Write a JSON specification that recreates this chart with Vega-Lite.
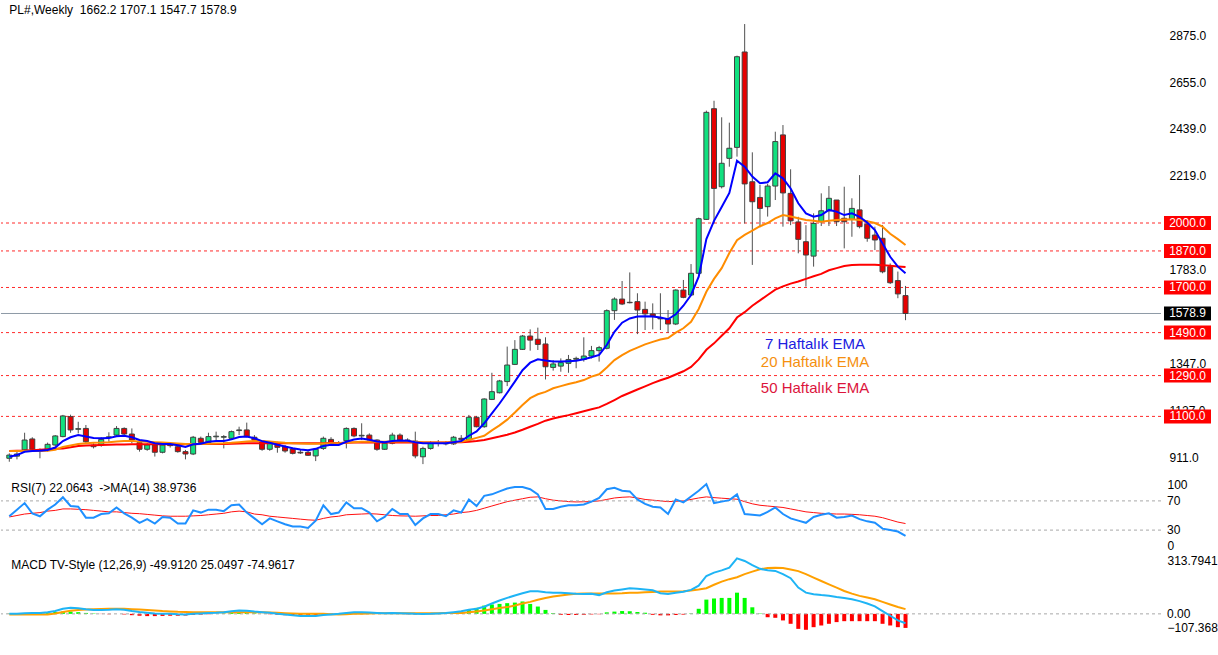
{
"$schema":"https://vega.github.io/schema/vega-lite/v6.json",
"background":"white","padding":0,"spacing":2,
"config":{"view":{"stroke":null},"font":"Liberation Sans","scale":{"continuousPadding":0},"axis":{"labelFont":"Liberation Sans","labelFontSize":12,"labelColor":"#000000","grid":false,"domain":false,"ticks":false,"tickSize":0}},
"datasets":{
"lv":[{"v":2000,"k":"lvl"},{"v":1870,"k":"lvl"},{"v":1700,"k":"lvl"},{"v":1490,"k":"lvl"},{"v":1290,"k":"lvl"},{"v":1100,"k":"lvl"},{"v":1578.9,"k":"px"}],
"w":[
{"d":"2024-03-24","o":905,"h":928,"l":889,"c":920,"e7":912,"e20":939,"e50":939,"rsi":49,"rma":48,"macd":0,"sig":-3.5,"hist":2},
{"d":"2024-03-31","o":915,"h":935,"l":900,"c":925,"e7":920,"e20":939,"e50":940,"rsi":58,"rma":50,"macd":1,"sig":-3.5,"hist":3},
{"d":"2024-04-07","o":944,"h":1024,"l":936,"c":990,"e7":935,"e20":939,"e50":941,"rsi":67,"rma":52,"macd":3,"sig":-3.5,"hist":4},
{"d":"2024-04-14","o":995,"h":1003,"l":940,"c":947,"e7":939,"e20":939,"e50":943,"rsi":53,"rma":53,"macd":4,"sig":-3.5,"hist":5},
{"d":"2024-04-21","o":943,"h":951,"l":905,"c":937,"e7":940,"e20":939,"e50":945,"rsi":49,"rma":54,"macd":4,"sig":-3.5,"hist":6},
{"d":"2024-04-28","o":943,"h":978,"l":936,"c":970,"e7":944,"e20":940,"e50":947,"rsi":58,"rma":56,"macd":8,"sig":-3,"hist":8},
{"d":"2024-05-05","o":967,"h":1013,"l":962,"c":1009,"e7":955,"e20":945,"e50":949,"rsi":65,"rma":57,"macd":15,"sig":2,"hist":10},
{"d":"2024-05-12","o":1006,"h":1107,"l":1003,"c":1102,"e7":985,"e20":958,"e50":951,"rsi":75,"rma":59,"macd":27,"sig":10,"hist":12},
{"d":"2024-05-19","o":1099,"h":1108,"l":1024,"c":1037,"e7":1003,"e20":965,"e50":956,"rsi":63,"rma":59,"macd":32,"sig":16,"hist":12},
{"d":"2024-05-26","o":1040,"h":1075,"l":1021,"c":1043,"e7":1013,"e20":972,"e50":962,"rsi":62,"rma":58.5,"macd":30,"sig":20,"hist":9},
{"d":"2024-06-02","o":1044,"h":1060,"l":975,"c":982,"e7":1006,"e20":975,"e50":964,"rsi":47,"rma":58,"macd":25,"sig":23,"hist":5},
{"d":"2024-06-09","o":966,"h":975,"l":951,"c":959,"e7":1000,"e20":977,"e50":966,"rsi":47,"rma":57,"macd":21,"sig":25,"hist":2},
{"d":"2024-06-16","o":967,"h":1003,"l":959,"c":993,"e7":998,"e20":978,"e50":967,"rsi":52,"rma":56,"macd":20,"sig":26,"hist":-1},
{"d":"2024-06-23","o":1001,"h":1026,"l":982,"c":1005,"e7":999,"e20":980,"e50":968,"rsi":53,"rma":55,"macd":22,"sig":26.6,"hist":-2},
{"d":"2024-06-30","o":1013,"h":1055,"l":1009,"c":1044,"e7":1008,"e20":983,"e50":969,"rsi":61,"rma":55,"macd":25,"sig":26.6,"hist":0},
{"d":"2024-07-07","o":1044,"h":1049,"l":1013,"c":1018,"e7":1010,"e20":985,"e50":969,"rsi":53,"rma":54,"macd":22,"sig":26.6,"hist":-3},
{"d":"2024-07-14","o":1018,"h":1044,"l":975,"c":990,"e7":1003,"e20":985,"e50":970,"rsi":47,"rma":53,"macd":15,"sig":25,"hist":-7},
{"d":"2024-07-21","o":978,"h":985,"l":936,"c":947,"e7":990,"e20":983,"e50":970,"rsi":40,"rma":52.5,"macd":10,"sig":23,"hist":-10},
{"d":"2024-07-28","o":947,"h":975,"l":940,"c":967,"e7":985,"e20":982,"e50":970,"rsi":45,"rma":51.5,"macd":6,"sig":21,"hist":-12},
{"d":"2024-08-04","o":967,"h":975,"l":913,"c":933,"e7":975,"e20":980,"e50":970,"rsi":39,"rma":50.5,"macd":2,"sig":18,"hist":-12},
{"d":"2024-08-11","o":933,"h":972,"l":928,"c":967,"e7":972,"e20":978,"e50":970,"rsi":48,"rma":49.5,"macd":0,"sig":15,"hist":-11},
{"d":"2024-08-18","o":967,"h":980,"l":955,"c":964,"e7":972,"e20":976,"e50":970,"rsi":47,"rma":49,"macd":0,"sig":13,"hist":-10},
{"d":"2024-08-25","o":959,"h":967,"l":931,"c":936,"e7":966,"e20":974,"e50":970,"rsi":39,"rma":49,"macd":-2,"sig":11,"hist":-10},
{"d":"2024-09-01","o":936,"h":944,"l":900,"c":925,"e7":958,"e20":972,"e50":970,"rsi":39,"rma":49,"macd":-3,"sig":10,"hist":-9},
{"d":"2024-09-08","o":925,"h":1009,"l":920,"c":1003,"e7":970,"e20":972,"e50":970,"rsi":57,"rma":49.5,"macd":0,"sig":9,"hist":-6},
{"d":"2024-09-15","o":998,"h":1006,"l":975,"c":979,"e7":973,"e20":972,"e50":971,"rsi":54,"rma":50,"macd":2,"sig":8.5,"hist":-4},
{"d":"2024-09-22","o":978,"h":1024,"l":967,"c":1006,"e7":982,"e20":973,"e50":971,"rsi":58,"rma":51,"macd":4,"sig":8.5,"hist":-2},
{"d":"2024-09-29","o":1005,"h":1029,"l":990,"c":1008,"e7":985,"e20":974,"e50":972,"rsi":58,"rma":52,"macd":6,"sig":8.5,"hist":0},
{"d":"2024-10-06","o":1003,"h":1013,"l":951,"c":1006,"e7":986,"e20":975,"e50":972,"rsi":56,"rma":53,"macd":9,"sig":8.5,"hist":2},
{"d":"2024-10-13","o":998,"h":1034,"l":993,"c":1029,"e7":993,"e20":977,"e50":973,"rsi":64,"rma":55,"macd":14,"sig":9,"hist":5},
{"d":"2024-10-20","o":1034,"h":1052,"l":1013,"c":1037,"e7":1004,"e20":980,"e50":974,"rsi":65,"rma":56,"macd":18,"sig":9,"hist":7},
{"d":"2024-10-27","o":1037,"h":1071,"l":1003,"c":1006,"e7":1006,"e20":983,"e50":975,"rsi":54,"rma":55,"macd":16,"sig":9,"hist":6},
{"d":"2024-11-03","o":1003,"h":1013,"l":985,"c":990,"e7":998,"e20":985,"e50":975,"rsi":46,"rma":52,"macd":12,"sig":9,"hist":3},
{"d":"2024-11-10","o":985,"h":987,"l":940,"c":947,"e7":985,"e20":985,"e50":975,"rsi":38,"rma":51,"macd":9,"sig":8.5,"hist":0},
{"d":"2024-11-17","o":947,"h":982,"l":940,"c":975,"e7":977,"e20":983,"e50":975,"rsi":46,"rma":49,"macd":6,"sig":7,"hist":-2},
{"d":"2024-11-24","o":975,"h":982,"l":931,"c":956,"e7":968,"e20":980,"e50":975,"rsi":42,"rma":48,"macd":0,"sig":5.5,"hist":-5},
{"d":"2024-12-01","o":959,"h":967,"l":931,"c":939,"e7":960,"e20":977,"e50":975,"rsi":38,"rma":47,"macd":-4,"sig":3.5,"hist":-7},
{"d":"2024-12-08","o":948,"h":954,"l":923,"c":928,"e7":952,"e20":975,"e50":975,"rsi":35,"rma":46,"macd":-8,"sig":2,"hist":-9},
{"d":"2024-12-15","o":933,"h":947,"l":925,"c":930,"e7":946,"e20":974,"e50":975,"rsi":35,"rma":45,"macd":-11,"sig":1,"hist":-10},
{"d":"2024-12-22","o":933,"h":944,"l":916,"c":919,"e7":942,"e20":973,"e50":975,"rsi":33,"rma":44,"macd":-12,"sig":0,"hist":-10},
{"d":"2024-12-29","o":916,"h":951,"l":892,"c":947,"e7":949,"e20":973,"e50":975,"rsi":43,"rma":43.5,"macd":-11,"sig":0,"hist":-9},
{"d":"2025-01-05","o":951,"h":1006,"l":944,"c":998,"e7":962,"e20":974,"e50":975,"rsi":64,"rma":46,"macd":-6,"sig":0,"hist":-5},
{"d":"2025-01-12","o":993,"h":1003,"l":967,"c":972,"e7":968,"e20":975,"e50":976,"rsi":52,"rma":48,"macd":-3,"sig":-2,"hist":-1},
{"d":"2025-01-19","o":972,"h":985,"l":965,"c":975,"e7":967,"e20":975,"e50":976,"rsi":54,"rma":49,"macd":0,"sig":-3.5,"hist":2},
{"d":"2025-01-26","o":987,"h":1049,"l":951,"c":1044,"e7":982,"e20":978,"e50":977,"rsi":68,"rma":51,"macd":5,"sig":-2,"hist":5},
{"d":"2025-02-02","o":1044,"h":1049,"l":1003,"c":1009,"e7":992,"e20":980,"e50":978,"rsi":60,"rma":51.5,"macd":9,"sig":0,"hist":7},
{"d":"2025-02-09","o":1009,"h":1068,"l":990,"c":1012,"e7":997,"e20":982,"e50":978,"rsi":60,"rma":52,"macd":9,"sig":1,"hist":6},
{"d":"2025-02-16","o":1013,"h":1021,"l":985,"c":990,"e7":991,"e20":982,"e50":978,"rsi":54,"rma":52.5,"macd":7,"sig":2,"hist":4},
{"d":"2025-02-23","o":990,"h":993,"l":940,"c":947,"e7":983,"e20":982,"e50":978,"rsi":42,"rma":52,"macd":5,"sig":3,"hist":2},
{"d":"2025-03-02","o":947,"h":982,"l":944,"c":975,"e7":980,"e20":982,"e50":978,"rsi":48,"rma":51,"macd":3.5,"sig":3.5,"hist":0},
{"d":"2025-03-09","o":975,"h":1024,"l":970,"c":1013,"e7":986,"e20":983,"e50":979,"rsi":59,"rma":50,"macd":4,"sig":3.5,"hist":1},
{"d":"2025-03-16","o":1013,"h":1021,"l":985,"c":990,"e7":988,"e20":983,"e50":979,"rsi":52,"rma":49.5,"macd":3,"sig":3.5,"hist":-1},
{"d":"2025-03-23","o":990,"h":998,"l":980,"c":987,"e7":987,"e20":983,"e50":979,"rsi":52,"rma":49.3,"macd":2,"sig":3.5,"hist":-2},
{"d":"2025-03-30","o":985,"h":1029,"l":905,"c":916,"e7":980,"e20":982,"e50":979,"rsi":37,"rma":49,"macd":0,"sig":3.5,"hist":-3},
{"d":"2025-04-06","o":912,"h":959,"l":878,"c":951,"e7":975,"e20":980,"e50":979,"rsi":46,"rma":49.5,"macd":-1,"sig":3,"hist":-3},
{"d":"2025-04-13","o":951,"h":985,"l":945,"c":975,"e7":975,"e20":979,"e50":979,"rsi":52,"rma":50,"macd":0,"sig":3,"hist":-2},
{"d":"2025-04-20","o":975,"h":990,"l":960,"c":976,"e7":975,"e20":979,"e50":979,"rsi":52,"rma":50,"macd":2,"sig":3.5,"hist":-1},
{"d":"2025-04-27","o":976,"h":985,"l":965,"c":972,"e7":975,"e20":979,"e50":979,"rsi":49,"rma":51,"macd":4,"sig":4,"hist":1},
{"d":"2025-05-04","o":972,"h":1009,"l":967,"c":1003,"e7":980,"e20":980,"e50":980,"rsi":57,"rma":52,"macd":9,"sig":4.5,"hist":5},
{"d":"2025-05-11","o":998,"h":1013,"l":980,"c":993,"e7":985,"e20":982,"e50":980,"rsi":54,"rma":54,"macd":14,"sig":5,"hist":9},
{"d":"2025-05-18","o":990,"h":1107,"l":985,"c":1096,"e7":1010,"e20":990,"e50":982,"rsi":72,"rma":55,"macd":22,"sig":8,"hist":21},
{"d":"2025-05-25","o":1096,"h":1102,"l":1049,"c":1052,"e7":1030,"e20":1000,"e50":985,"rsi":63,"rma":57,"macd":27,"sig":13,"hist":32},
{"d":"2025-06-01","o":1052,"h":1184,"l":1047,"c":1181,"e7":1068,"e20":1010,"e50":990,"rsi":77,"rma":60,"macd":38,"sig":18,"hist":44},
{"d":"2025-06-08","o":1179,"h":1303,"l":1176,"c":1215,"e7":1114,"e20":1035,"e50":998,"rsi":79,"rma":63,"macd":55,"sig":25,"hist":50},
{"d":"2025-06-15","o":1210,"h":1270,"l":1207,"c":1265,"e7":1160,"e20":1058,"e50":1006,"rsi":83,"rma":66,"macd":71,"sig":31,"hist":53},
{"d":"2025-06-22","o":1262,"h":1425,"l":1241,"c":1339,"e7":1210,"e20":1085,"e50":1015,"rsi":87,"rma":69,"macd":85,"sig":36,"hist":57},
{"d":"2025-06-29","o":1342,"h":1455,"l":1339,"c":1412,"e7":1262,"e20":1118,"e50":1025,"rsi":89,"rma":71,"macd":98,"sig":45,"hist":60},
{"d":"2025-07-06","o":1412,"h":1479,"l":1409,"c":1474,"e7":1315,"e20":1153,"e50":1038,"rsi":89,"rma":73,"macd":110,"sig":55,"hist":66},
{"d":"2025-07-13","o":1474,"h":1505,"l":1406,"c":1455,"e7":1350,"e20":1185,"e50":1052,"rsi":86,"rma":75,"macd":121,"sig":64,"hist":53},
{"d":"2025-07-20","o":1459,"h":1513,"l":1409,"c":1435,"e7":1366,"e20":1203,"e50":1065,"rsi":79,"rma":75.5,"macd":120,"sig":75,"hist":39},
{"d":"2025-07-27","o":1437,"h":1468,"l":1272,"c":1331,"e7":1360,"e20":1214,"e50":1080,"rsi":59,"rma":73,"macd":115,"sig":85,"hist":21},
{"d":"2025-08-03","o":1328,"h":1362,"l":1313,"c":1344,"e7":1356,"e20":1231,"e50":1090,"rsi":59,"rma":71,"macd":113,"sig":92,"hist":4},
{"d":"2025-08-10","o":1334,"h":1370,"l":1308,"c":1350,"e7":1355,"e20":1241,"e50":1098,"rsi":62,"rma":70,"macd":112,"sig":98,"hist":-5},
{"d":"2025-08-17","o":1347,"h":1386,"l":1303,"c":1365,"e7":1357,"e20":1251,"e50":1106,"rsi":64,"rma":69,"macd":110,"sig":103,"hist":-6},
{"d":"2025-08-24","o":1366,"h":1378,"l":1324,"c":1370,"e7":1359,"e20":1259,"e50":1115,"rsi":64,"rma":68.6,"macd":107,"sig":107,"hist":-6},
{"d":"2025-08-31","o":1365,"h":1468,"l":1355,"c":1381,"e7":1366,"e20":1269,"e50":1124,"rsi":65,"rma":68.8,"macd":106,"sig":108,"hist":-5},
{"d":"2025-09-07","o":1381,"h":1428,"l":1370,"c":1406,"e7":1375,"e20":1285,"e50":1133,"rsi":69,"rma":69,"macd":107,"sig":109,"hist":-3},
{"d":"2025-09-14","o":1406,"h":1428,"l":1355,"c":1420,"e7":1386,"e20":1296,"e50":1142,"rsi":74,"rma":70,"macd":100,"sig":108,"hist":-2},
{"d":"2025-09-21","o":1417,"h":1598,"l":1412,"c":1592,"e7":1432,"e20":1328,"e50":1158,"rsi":86,"rma":72,"macd":115,"sig":108,"hist":8},
{"d":"2025-09-28","o":1592,"h":1654,"l":1549,"c":1646,"e7":1494,"e20":1362,"e50":1176,"rsi":88,"rma":74,"macd":124,"sig":109,"hist":12},
{"d":"2025-10-05","o":1646,"h":1730,"l":1618,"c":1623,"e7":1536,"e20":1385,"e50":1195,"rsi":84,"rma":75,"macd":130,"sig":110,"hist":15},
{"d":"2025-10-12","o":1631,"h":1770,"l":1626,"c":1629,"e7":1556,"e20":1405,"e50":1210,"rsi":83,"rma":75.5,"macd":136,"sig":112,"hist":14},
{"d":"2025-10-19","o":1634,"h":1673,"l":1483,"c":1595,"e7":1565,"e20":1420,"e50":1225,"rsi":72,"rma":74,"macd":134,"sig":113,"hist":10},
{"d":"2025-10-26","o":1598,"h":1634,"l":1502,"c":1577,"e7":1566,"e20":1435,"e50":1240,"rsi":66,"rma":72,"macd":130,"sig":115,"hist":6},
{"d":"2025-11-02","o":1577,"h":1626,"l":1505,"c":1567,"e7":1565,"e20":1447,"e50":1255,"rsi":62,"rma":71,"macd":126,"sig":117,"hist":-5},
{"d":"2025-11-09","o":1557,"h":1673,"l":1502,"c":1554,"e7":1560,"e20":1458,"e50":1268,"rsi":61,"rma":70,"macd":110,"sig":119,"hist":-8},
{"d":"2025-11-16","o":1553,"h":1595,"l":1490,"c":1530,"e7":1552,"e20":1465,"e50":1280,"rsi":52,"rma":69,"macd":106,"sig":119,"hist":-8},
{"d":"2025-11-23","o":1530,"h":1691,"l":1525,"c":1688,"e7":1575,"e20":1490,"e50":1295,"rsi":72,"rma":69.5,"macd":113,"sig":119,"hist":-6},
{"d":"2025-11-30","o":1688,"h":1735,"l":1650,"c":1654,"e7":1615,"e20":1510,"e50":1310,"rsi":68,"rma":70,"macd":118,"sig":121,"hist":-4},
{"d":"2025-12-07","o":1665,"h":1809,"l":1660,"c":1766,"e7":1665,"e20":1540,"e50":1330,"rsi":76,"rma":72,"macd":128,"sig":125,"hist":2},
{"d":"2025-12-14","o":1766,"h":2025,"l":1760,"c":2020,"e7":1750,"e20":1600,"e50":1365,"rsi":84,"rma":74,"macd":150,"sig":130,"hist":27},
{"d":"2025-12-21","o":2017,"h":2523,"l":2014,"c":2515,"e7":1925,"e20":1680,"e50":1410,"rsi":93,"rma":75.5,"macd":202,"sig":137,"hist":76},
{"d":"2025-12-28","o":2532,"h":2569,"l":1998,"c":2161,"e7":2010,"e20":1740,"e50":1440,"rsi":67,"rma":74.5,"macd":220,"sig":155,"hist":82},
{"d":"2026-01-04","o":2169,"h":2492,"l":2161,"c":2278,"e7":2075,"e20":1790,"e50":1475,"rsi":69,"rma":73.7,"macd":232,"sig":172,"hist":85},
{"d":"2026-01-11","o":2301,"h":2467,"l":2262,"c":2348,"e7":2140,"e20":1860,"e50":1510,"rsi":71,"rma":73,"macd":246,"sig":185,"hist":85},
{"d":"2026-01-18","o":2352,"h":2779,"l":2309,"c":2774,"e7":2290,"e20":1920,"e50":1560,"rsi":79,"rma":72.3,"macd":296,"sig":195,"hist":113},
{"d":"2026-01-25","o":2796,"h":2926,"l":1998,"c":2182,"e7":2262,"e20":1945,"e50":1585,"rsi":52,"rma":69,"macd":282,"sig":212,"hist":85},
{"d":"2026-02-01","o":2192,"h":2329,"l":1805,"c":2099,"e7":2216,"e20":1965,"e50":1615,"rsi":51,"rma":66,"macd":260,"sig":225,"hist":35},
{"d":"2026-02-08","o":2119,"h":2177,"l":1980,"c":2068,"e7":2185,"e20":1985,"e50":1640,"rsi":50,"rma":64,"macd":240,"sig":238,"hist":2},
{"d":"2026-02-15","o":2076,"h":2182,"l":2030,"c":2172,"e7":2190,"e20":2000,"e50":1665,"rsi":55,"rma":63,"macd":232,"sig":244,"hist":-18},
{"d":"2026-02-22","o":2172,"h":2425,"l":2107,"c":2379,"e7":2231,"e20":2022,"e50":1690,"rsi":61,"rma":62,"macd":229,"sig":246,"hist":-21},
{"d":"2026-03-01","o":2410,"h":2456,"l":1983,"c":2140,"e7":2208,"e20":2037,"e50":1705,"rsi":52,"rma":61,"macd":212,"sig":244,"hist":-35},
{"d":"2026-03-08","o":2138,"h":2250,"l":1990,"c":2010,"e7":2161,"e20":2030,"e50":1718,"rsi":46,"rma":59,"macd":190,"sig":237,"hist":-53},
{"d":"2026-03-15","o":2005,"h":2029,"l":1859,"c":1924,"e7":2092,"e20":2022,"e50":1728,"rsi":43,"rma":57,"macd":140,"sig":228,"hist":-80},
{"d":"2026-03-22","o":1913,"h":1990,"l":1704,"c":1851,"e7":2045,"e20":2014,"e50":1740,"rsi":40,"rma":55,"macd":113,"sig":212,"hist":-85},
{"d":"2026-03-29","o":1846,"h":2045,"l":1797,"c":1998,"e7":2029,"e20":2010,"e50":1752,"rsi":48,"rma":54,"macd":105,"sig":193,"hist":-71},
{"d":"2026-04-05","o":2006,"h":2138,"l":1986,"c":2057,"e7":2037,"e20":2006,"e50":1763,"rsi":51,"rma":53,"macd":100,"sig":175,"hist":-62},
{"d":"2026-04-12","o":2057,"h":2172,"l":1986,"c":2115,"e7":2061,"e20":2010,"e50":1780,"rsi":53,"rma":52.5,"macd":97,"sig":157,"hist":-53},
{"d":"2026-04-19","o":2107,"h":2107,"l":1986,"c":2006,"e7":2053,"e20":2014,"e50":1790,"rsi":47,"rma":52,"macd":90,"sig":140,"hist":-44},
{"d":"2026-04-26","o":2022,"h":2169,"l":1882,"c":2006,"e7":2037,"e20":2016,"e50":1800,"rsi":48,"rma":52,"macd":85,"sig":122,"hist":-39},
{"d":"2026-05-03","o":2017,"h":2115,"l":1936,"c":2068,"e7":2045,"e20":2017,"e50":1805,"rsi":50,"rma":51.6,"macd":78,"sig":108,"hist":-39},
{"d":"2026-05-10","o":2061,"h":2223,"l":1975,"c":1983,"e7":2029,"e20":2014,"e50":1806,"rsi":45,"rma":51,"macd":68,"sig":96,"hist":-39},
{"d":"2026-05-17","o":1995,"h":2014,"l":1913,"c":1929,"e7":2002,"e20":2008,"e50":1806,"rsi":42,"rma":50,"macd":55,"sig":87,"hist":-39},
{"d":"2026-05-24","o":1944,"h":1983,"l":1874,"c":1921,"e7":1967,"e20":2000,"e50":1806,"rsi":40,"rma":49,"macd":40,"sig":78,"hist":-39},
{"d":"2026-05-31","o":1929,"h":1991,"l":1766,"c":1773,"e7":1905,"e20":1983,"e50":1804,"rsi":32,"rma":47,"macd":15,"sig":64,"hist":-53},
{"d":"2026-06-07","o":1797,"h":1812,"l":1716,"c":1722,"e7":1843,"e20":1950,"e50":1801,"rsi":30,"rma":44,"macd":-10,"sig":50,"hist":-62},
{"d":"2026-06-14","o":1732,"h":1774,"l":1650,"c":1670,"e7":1797,"e20":1925,"e50":1798,"rsi":28,"rma":41,"macd":-35,"sig":37,"hist":-71},
{"d":"2026-06-21","o":1662.2,"h":1707.1,"l":1547.7,"c":1578.9,"e7":1766,"e20":1898,"e50":1795,"rsi":22.06,"rma":38.97,"macd":-49.91,"sig":25.05,"hist":-74.96}
]},
"resolve":{"scale":{"y":"independent"}},
"vconcat":[
{"width":1160,"height":476,"data":{"name":"w"},
"layer":[
{"data":{"name":"lv"},"transform":[{"filter":"datum.k=='lvl'"}],"mark":{"type":"rule","color":"#FF2A2A","strokeDash":[3,3],"strokeWidth":1},
 "encoding":{"y":{"field":"v","type":"quantitative","title":null,"scale":{"domain":[822.6,3037.9],"nice":false,"zero":false,"padding":0},"axis":{"orient":"right","values":[911,1127,1347,1783,2219,2439,2655,2875],"format":".1f","labelPadding":8,"labelOverlap":false,"title":null}}}},
{"data":{"name":"lv"},"transform":[{"filter":"datum.k=='px'"}],"mark":{"type":"rule","color":"#8E9AA6","strokeWidth":1},
 "encoding":{"y":{"field":"v","type":"quantitative","title":null}}},
{"mark":{"type":"rule","color":"#505050","strokeWidth":1},
 "encoding":{"x":{"field":"d","type":"temporal","scale":{"type":"utc","domain":[1710583000000,1802171320000],"nice":false,"padding":0},"axis":null},"y":{"field":"l","type":"quantitative","title":null},"y2":{"field":"h"}}},
{"mark":{"type":"bar","width":5,"stroke":"#404040","strokeWidth":1},
 "encoding":{"x":{"field":"d","type":"temporal","axis":null},"y":{"field":"o","type":"quantitative","title":null},"y2":{"field":"c"},
  "color":{"condition":{"test":"datum.c>=datum.o","value":"#11E07F"},"value":"#E60000"}}},
{"mark":{"type":"line","color":"#FF0000","strokeWidth":2},"encoding":{"x":{"field":"d","type":"temporal","axis":null},"y":{"field":"e50","type":"quantitative","title":null}}},
{"mark":{"type":"line","color":"#FF8C00","strokeWidth":2},"encoding":{"x":{"field":"d","type":"temporal","axis":null},"y":{"field":"e20","type":"quantitative","title":null}}},
{"mark":{"type":"line","color":"#0000FF","strokeWidth":2},"encoding":{"x":{"field":"d","type":"temporal","axis":null},"y":{"field":"e7","type":"quantitative","title":null}}},
{"data":{"name":"lv"},"mark":{"type":"tick","orient":"horizontal","size":47,"thickness":14,"opacity":1},
 "encoding":{"x":{"datum":1804263600000,"type":"temporal","axis":null},"y":{"field":"v","type":"quantitative","title":null},
  "color":{"condition":{"test":"datum.k=='px'","value":"#000000"},"value":"#FF0000"}}},
{"data":{"name":"lv"},"mark":{"type":"text","color":"#FFFFFF","fontSize":12,"align":"center","baseline":"middle"},
 "encoding":{"x":{"datum":1804263600000,"type":"temporal","axis":null},"y":{"field":"v","type":"quantitative","title":null},"text":{"field":"v","type":"quantitative","format":".1f"}}},
{"data":{"values":[{}]},"mark":{"type":"text","text":"7 Haftalık EMA","color":"#2020E0","fontSize":15,"align":"center","baseline":"middle"},
 "encoding":{"x":{"datum":1774852700000,"type":"temporal","axis":null},"y":{"datum":1437,"type":"quantitative","title":null}}},
{"data":{"values":[{}]},"mark":{"type":"text","text":"20 Haftalık EMA","color":"#F5900F","fontSize":15,"align":"center","baseline":"middle"},
 "encoding":{"x":{"datum":1774852700000,"type":"temporal","axis":null},"y":{"datum":1353,"type":"quantitative","title":null}}},
{"data":{"values":[{}]},"mark":{"type":"text","text":"50 Haftalık EMA","color":"#DC143C","fontSize":15,"align":"center","baseline":"middle"},
 "encoding":{"x":{"datum":1774852700000,"type":"temporal","axis":null},"y":{"datum":1232,"type":"quantitative","title":null}}},
{"data":{"values":[{}]},"mark":{"type":"text","text":"PL#,Weekly \u00a01662.2 1707.1 1547.7 1578.9","color":"#000000","fontSize":12,"align":"left","baseline":"middle"},
 "encoding":{"x":{"datum":1711238400000,"type":"temporal","axis":null},"y":{"datum":2991,"type":"quantitative","title":null}}}
]},
{"width":1160,"height":73,"data":{"name":"w"},
"layer":[
{"mark":{"type":"line","color":"#FF1010","strokeWidth":1},"encoding":{"x":{"field":"d","type":"temporal","scale":{"type":"utc","domain":[1710583000000,1802171320000],"nice":false,"padding":0},"axis":null},
  "y":{"field":"rma","type":"quantitative","title":null,"scale":{"domain":[0,100],"nice":false,"padding":0},"axis":{"orient":"right","values":[0,100],"format":"d","labelBaseline":{"condition":[{"test":"datum.value==100","value":"top"},{"test":"datum.value==0","value":"bottom"}],"value":"middle"},"labelPadding":6,"labelOverlap":false,"title":null}}}},
{"data":{"values":[{"v":70},{"v":30}]},"mark":{"type":"rule","color":"#A8A8A8","strokeDash":[3,3],"strokeWidth":1},
 "encoding":{"y":{"field":"v","type":"quantitative","title":null}}},
{"data":{"values":[{"v":70},{"v":30}]},"mark":{"type":"text","color":"#000000","fontSize":12,"align":"left","baseline":"middle"},
 "encoding":{"x":{"datum":1802645000000,"type":"temporal","axis":null},"y":{"field":"v","type":"quantitative","title":null},"text":{"field":"v","type":"quantitative","format":"d"}}},
{"mark":{"type":"line","color":"#1E90FF","strokeWidth":2},"encoding":{"x":{"field":"d","type":"temporal","axis":null},"y":{"field":"rsi","type":"quantitative","title":null}}},
{"data":{"values":[{}]},"mark":{"type":"text","text":"RSI(7) 22.0643 \u00a0->MA(14) 38.9736","color":"#000000","fontSize":12,"align":"left","baseline":"middle","dx":2},
 "encoding":{"x":{"datum":1711238400000,"type":"temporal","axis":null},"y":{"datum":88,"type":"quantitative","title":null}}}
]},
{"width":1160,"height":79,"data":{"name":"w"},
"layer":[
{"mark":{"type":"bar","width":4},
 "encoding":{"x":{"field":"d","type":"temporal","title":null,"scale":{"type":"utc","domain":[1710583000000,1802171320000],"nice":false,"padding":0},
  "axis":{"values":[1711238400000,1718496000000,1725753600000,1733011200000,1740268800000,1747526400000,1754784000000,1762041600000,1769299200000,1776556800000],"format":"%-d %b %Y","labelAlign":"left","labelFlush":false,"labelOverlap":false,"labelPadding":5,"labelFontSize":11,"title":null}},
  "y":{"field":"hist","type":"quantitative","title":null,"scale":{"domain":[-107.3687,313.7941],"nice":false,"zero":false,"padding":0},
  "axis":{"orient":"right","values":[-107.3687,313.7941],"labelExpr":"format(datum.value,'.4f')","labelBaseline":{"condition":[{"test":"datum.value>300","value":"top"},{"test":"datum.value<-100","value":"bottom"}],"value":"middle"},"labelPadding":6,"labelOverlap":false,"title":null}},"y2":{"datum":0},
  "color":{"condition":{"test":"datum.hist>=0","value":"#00FF00"},"value":"#FF0000"}}},
{"data":{"values":[{"v":0}]},"mark":{"type":"rule","color":"#A8A8A8","strokeDash":[3,3],"strokeWidth":1},
 "encoding":{"y":{"field":"v","type":"quantitative","title":null}}},
{"data":{"values":[{"v":0}]},"mark":{"type":"text","color":"#000000","fontSize":12,"align":"left","baseline":"middle"},
 "encoding":{"x":{"datum":1802645000000,"type":"temporal","axis":null},"y":{"field":"v","type":"quantitative","title":null},"text":{"field":"v","type":"quantitative","format":".2f"}}},
{"mark":{"type":"line","color":"#FFA000","strokeWidth":2},"encoding":{"x":{"field":"d","type":"temporal","title":null},"y":{"field":"sig","type":"quantitative","title":null}}},
{"mark":{"type":"line","color":"#1EB4F5","strokeWidth":2},"encoding":{"x":{"field":"d","type":"temporal","title":null},"y":{"field":"macd","type":"quantitative","title":null}}},
{"data":{"values":[{}]},"mark":{"type":"text","text":"MACD TV-Style (12,26,9) -49.9120 25.0497 -74.9617","color":"#000000","fontSize":12,"align":"left","baseline":"middle","dx":2},
 "encoding":{"x":{"datum":1711238400000,"type":"temporal","title":null},"y":{"datum":260,"type":"quantitative","title":null}}}
]}
]
}
